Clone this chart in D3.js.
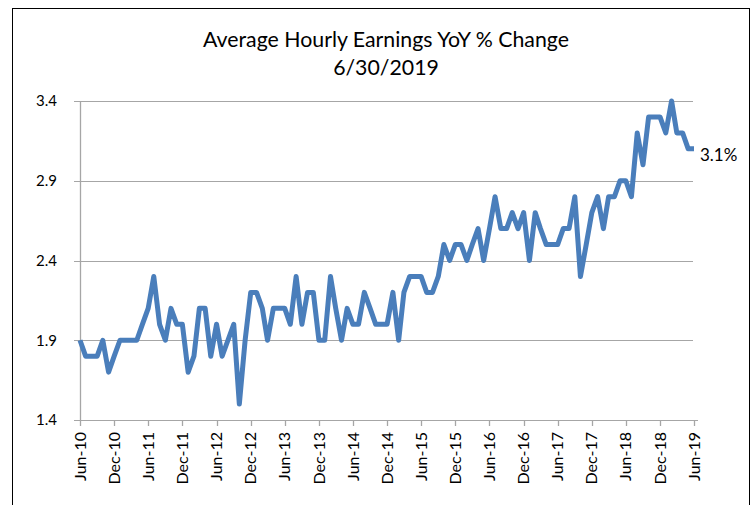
<!DOCTYPE html>
<html>
<head>
<meta charset="utf-8">
<script src="https://cdn.jsdelivr.net/npm/d3@7"></script>
<style>
  body { margin: 0; background: #fff; }
  svg { display: block; }
  text { font-family: Lato, "Open Sans", sans-serif; fill: #000; }
</style>
</head>
<body>
<svg id="chart" width="755" height="505"></svg>
<script>
// monthly YoY % change, Jun-2010 .. Jun-2019
const firstMonth = new Date(2010, 5, 1);
const earnings = [
  1.9, 1.8, 1.8, 1.8, 1.9, 1.7, 1.8, 1.9, 1.9, 1.9, 1.9, 2.0, 2.1, 2.3, 2.0, 1.9, 2.1, 2.0, 2.0, 1.7,
  1.8, 2.1, 2.1, 1.8, 2.0, 1.8, 1.9, 2.0, 1.5, 1.9, 2.2, 2.2, 2.1, 1.9, 2.1, 2.1, 2.1, 2.0, 2.3, 2.0,
  2.2, 2.2, 1.9, 1.9, 2.3, 2.1, 1.9, 2.1, 2.0, 2.0, 2.2, 2.1, 2.0, 2.0, 2.0, 2.2, 1.9, 2.2, 2.3, 2.3,
  2.3, 2.2, 2.2, 2.3, 2.5, 2.4, 2.5, 2.5, 2.4, 2.5, 2.6, 2.4, 2.6, 2.8, 2.6, 2.6, 2.7, 2.6, 2.7, 2.4,
  2.7, 2.6, 2.5, 2.5, 2.5, 2.6, 2.6, 2.8, 2.3, 2.5, 2.7, 2.8, 2.6, 2.8, 2.8, 2.9, 2.9, 2.8, 3.2, 3.0,
  3.3, 3.3, 3.3, 3.2, 3.4, 3.2, 3.2, 3.1, 3.1
];
const yTicks = [1.4, 1.9, 2.4, 2.9, 3.4];
const xTickLabels = ["Jun-10", "Dec-10", "Jun-11", "Dec-11", "Jun-12", "Dec-12", "Jun-13", "Dec-13",
  "Jun-14", "Dec-14", "Jun-15", "Dec-15", "Jun-16", "Dec-16", "Jun-17", "Dec-17", "Jun-18", "Dec-18", "Jun-19"];
const titleLines = ["Average Hourly Earnings YoY % Change", "6/30/2019"];
const lastLabel = "3.1%";

const svg = d3.select("#chart");
const blue = "#4a7ebb", grid = "#a6a6a6";

// months as dates
const data = earnings.map((v, i) => ({ date: d3.timeMonth.offset(firstMonth, i), value: v }));
const lastDate = data[data.length - 1].date;

const x = d3.scaleTime().domain([firstMonth, lastDate]).range([80, 694]);
const y = d3.scaleLinear().domain([1.4, 3.4]).range([420, 101]);

// outer frame
svg.append("rect")
  .attr("x", 12.5).attr("y", 8.5).attr("width", 737).attr("height", 510)
  .attr("fill", "none").attr("stroke", "#000").attr("stroke-width", 1);

// title
svg.append("g").selectAll("text")
  .data(titleLines)
  .join("text")
  .attr("x", 386)
  .attr("y", (d, i) => 47 + i * 28)
  .attr("text-anchor", "middle")
  .attr("font-size", 21.3)
  .text(d => d);

// horizontal gridlines (with left tick stubs)
svg.append("g").selectAll("line")
  .data(yTicks)
  .join("line")
  .attr("x1", 74).attr("x2", d => d === 1.4 ? 698 : 693)
  .attr("y1", d => Math.round(y(d)) + 0.5)
  .attr("y2", d => Math.round(y(d)) + 0.5)
  .attr("stroke", grid).attr("stroke-width", 1);

// y axis line
svg.append("line")
  .attr("x1", 80.5).attr("x2", 80.5)
  .attr("y1", y(3.4)).attr("y2", y(1.4) + 0.5)
  .attr("stroke", grid).attr("stroke-width", 1.3);

// y labels
svg.append("g").selectAll("text")
  .data(yTicks)
  .join("text")
  .attr("x", 57)
  .attr("y", d => y(d))
  .attr("dy", "0.35em")
  .attr("text-anchor", "end")
  .attr("font-size", 15)
  .text(d => d.toFixed(1));

// x ticks every 6 months
const tickDates = xTickLabels.map((_, i) => d3.timeMonth.offset(firstMonth, i * 6));
svg.append("g").selectAll("line")
  .data(tickDates)
  .join("line")
  .attr("x1", d => Math.round(x(d)) + 0.5)
  .attr("x2", d => Math.round(x(d)) + 0.5)
  .attr("y1", 420).attr("y2", 426)
  .attr("stroke", grid).attr("stroke-width", 1.3);

svg.append("g").selectAll("text")
  .data(tickDates)
  .join("text")
  .attr("transform", d => `translate(${x(d)},432) rotate(-90)`)
  .attr("dy", "0.35em")
  .attr("text-anchor", "end")
  .attr("font-size", 16)
  .text((d, i) => xTickLabels[i]);

// the series
const line = d3.line().x(d => x(d.date)).y(d => y(d.value));
svg.append("path")
  .datum(data)
  .attr("d", line)
  .attr("fill", "none")
  .attr("stroke", blue)
  .attr("stroke-width", 5)
  .attr("stroke-linejoin", "round");

// end label
svg.append("text")
  .attr("x", x(lastDate) + 6)
  .attr("y", y(data[data.length - 1].value) + 6)
  .attr("dy", "0.35em")
  .attr("font-size", 17)
  .text(lastLabel);
</script>
</body>
</html>
